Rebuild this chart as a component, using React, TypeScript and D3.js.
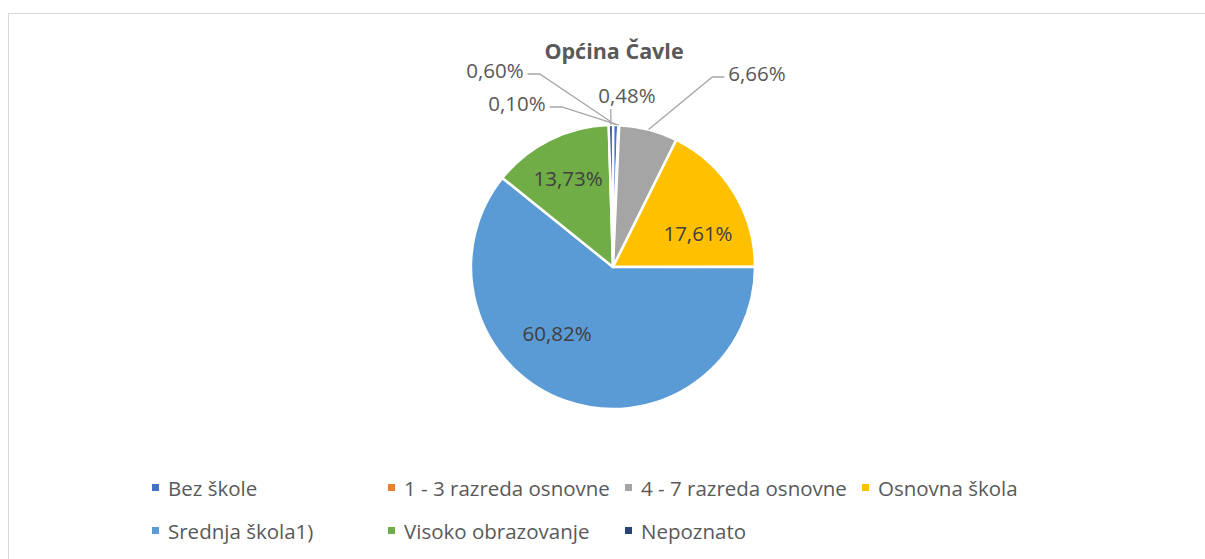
import { useEffect, useRef } from "react";
import * as d3 from "d3";

const categories = [
  "Bez škole",
  "1 - 3 razreda osnovne",
  "4 - 7 razreda osnovne",
  "Osnovna škola",
  "Srednja škola1)",
  "Visoko obrazovanje",
  "Nepoznato",
];
const values = [0.6, 0.1, 6.66, 17.61, 60.82, 13.73, 0.48];
const colors = ["#4472C4", "#ED7D31", "#A5A5A5", "#FFC000", "#5B9BD5", "#70AD47", "#264478"];

// label placement (Excel "best fit"), offsets from pie centre
const labelOffsets: [number, number, boolean][] = [
  [-118, -197, true],
  [-96, -164, true],
  [144, -194, true],
  [85, -34, false],
  [-56, 66, false],
  [-45, -89, false],
  [14, -172, true],
];
// legend layout: row, x of marker
const legendLayout: [number, number][] = [
  [0, 152], [0, 388], [0, 625], [0, 862],
  [1, 152], [1, 388], [1, 625],
];

const fmt = (v: number) => v.toFixed(2).replace(".", ",") + "%";

export default function App() {
  const ref = useRef<SVGSVGElement>(null);

  useEffect(() => {
    const svg = d3.select(ref.current);
    svg.selectAll("*").remove();

    const width = 1205;
    const height = 559;
    const cx = 613;
    const cy = 267;
    const r = 142;
    const font = "'Open Sans', Lato, sans-serif";

    svg.append("rect")
      .attr("x", 8.5).attr("y", 13.5)
      .attr("width", width).attr("height", height)
      .attr("fill", "#fff").attr("stroke", "#d9d9d9").attr("stroke-width", 1);

    svg.append("text")
      .attr("x", cx + 1).attr("y", 59)
      .attr("text-anchor", "middle")
      .attr("font-family", font).attr("font-weight", "bold")
      .attr("font-size", 21.5).attr("fill", "#595959")
      .text("Općina Čavle");

    const pie = d3.pie<number>().sort(null).value(d => d);
    const arcs = pie(values);
    const arc = d3.arc<d3.PieArcDatum<number>>().innerRadius(0).outerRadius(r);

    const g = svg.append("g").attr("transform", `translate(${cx},${cy})`);
    g.selectAll("path.slice")
      .data(arcs)
      .join("path")
      .attr("class", "slice")
      .attr("d", arc)
      .attr("fill", (_, i) => colors[i])
      .attr("stroke", "#fff")
      .attr("stroke-width", 2.5)
      .attr("stroke-linejoin", "round");

    arcs.forEach((a, i) => {
      const [lx, ly, outside] = labelOffsets[i];
      const t = g.append("text")
        .attr("x", lx).attr("y", ly)
        .attr("text-anchor", "middle")
        .attr("dominant-baseline", "central")
        .attr("font-family", font).attr("font-size", 20.5)
        .attr("fill", outside ? "#595959" : "#404040")
        .text(fmt(values[i]));
      if (outside) {
        const mid = (a.startAngle + a.endAngle) / 2;
        const px = Math.sin(mid) * r;
        const py = -Math.cos(mid) * r;
        const w = (t.node() as SVGTextElement).getComputedTextLength();
        let pts: [number, number][];
        if (Math.abs(lx - px) < 20) {
          pts = [[px, ly + 14], [px, py]];
        } else if (lx < px) {
          const sx = lx + w / 2 + 4;
          pts = [[sx, ly + 4], [sx + 12, ly + 4], [px, py]];
        } else {
          const sx = lx - w / 2 - 4;
          pts = [[sx, ly + 4], [sx - 12, ly + 4], [px, py]];
        }
        g.append("path")
          .attr("d", d3.line()(pts))
          .attr("fill", "none")
          .attr("stroke", "#a6a6a6")
          .attr("stroke-width", 1.3);
      }
    });

    const legend = svg.append("g");
    categories.forEach((c, i) => {
      const [row, x] = legendLayout[i];
      const y = 488 + row * 43;
      legend.append("rect")
        .attr("x", x).attr("y", y - 4)
        .attr("width", 7).attr("height", 7)
        .attr("fill", colors[i]);
      legend.append("text")
        .attr("x", x + 16).attr("y", y)
        .attr("dominant-baseline", "central")
        .attr("font-family", font).attr("font-size", 20.5)
        .attr("fill", "#595959")
        .text(c);
    });
  }, []);

  return (
    <svg
      ref={ref}
      width={1205}
      height={559}
      style={{ position: "absolute", left: 0, top: 0, display: "block" }}
    />
  );
}
